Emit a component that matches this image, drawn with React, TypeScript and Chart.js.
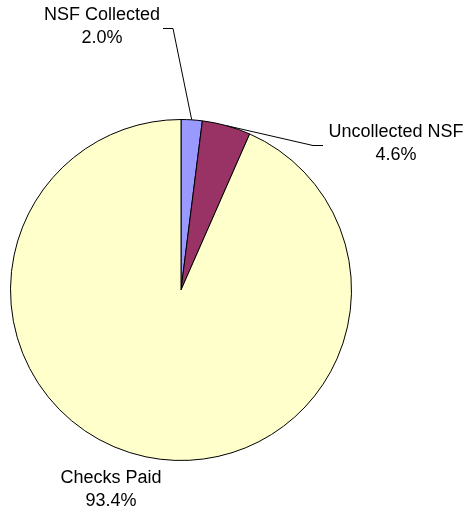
import React, { useEffect, useRef } from "react";
import { Chart, registerables } from "chart.js";

Chart.register(...registerables);

const categories = ["NSF Collected", "Uncollected NSF", "Checks Paid"];
const values = [2.0, 4.6, 93.4];
const valueLabels = ["2.0%", "4.6%", "93.4%"];
const colors = ["#9999FF", "#993366", "#FFFFCC"];

// label layout: text centre, and leader elbow (null = no leader)
const labelLayout = [
  { x: 102, y: 15, elbow: [173, 28], end: [163, 28] },
  { x: 396, y: 132, elbow: [313, 145], end: [323, 145] },
  { x: 111, y: 478, elbow: null, end: null },
];

const labelPlugin = {
  id: "pieLabels",
  afterDraw(chart: any) {
    const ctx = chart.ctx;
    const meta = chart.getDatasetMeta(0);
    ctx.save();
    ctx.font = '18px "Liberation Sans", Arial, sans-serif';
    ctx.fillStyle = "#000";
    ctx.textAlign = "center";
    ctx.textBaseline = "middle";
    meta.data.forEach((arc: any, i: number) => {
      const L = labelLayout[i];
      const { x, y, startAngle, endAngle, outerRadius } = arc.getProps(
        ["x", "y", "startAngle", "endAngle", "outerRadius"],
        true
      );
      if (L.elbow && L.end) {
        const mid = (startAngle + endAngle) / 2;
        const sx = x + Math.cos(mid) * outerRadius;
        const sy = y + Math.sin(mid) * outerRadius;
        ctx.beginPath();
        ctx.strokeStyle = "#000";
        ctx.lineWidth = 1;
        ctx.moveTo(sx, sy);
        ctx.lineTo(L.elbow[0], L.elbow[1] + 0.5);
        ctx.lineTo(L.end[0], L.end[1] + 0.5);
        ctx.stroke();
      }
      ctx.fillText(categories[i], L.x, L.y);
      ctx.fillText(valueLabels[i], L.x, L.y + 23);
    });
    ctx.restore();
  },
};

export default function App() {
  const ref = useRef<HTMLCanvasElement>(null);
  useEffect(() => {
    document.body.style.margin = "0";
    const chart = new Chart(ref.current!, {
      type: "pie",
      data: {
        labels: categories,
        datasets: [
          {
            data: values,
            backgroundColor: colors,
            borderColor: "#000",
            borderWidth: 1,
            hoverOffset: 0,
            offset: 0,
          },
        ],
      },
      options: {
        animation: false,
        responsive: false,
        events: [],
        layout: { padding: { left: 10, right: 114, top: 119, bottom: 51 } },
        plugins: { legend: { display: false }, tooltip: { enabled: false } },
      },
      plugins: [labelPlugin],
    });
    return () => chart.destroy();
  }, []);
  return (
    <div style={{ width: 466, height: 512, background: "#fff" }}>
      <canvas ref={ref} width={466} height={512} />
    </div>
  );
}
